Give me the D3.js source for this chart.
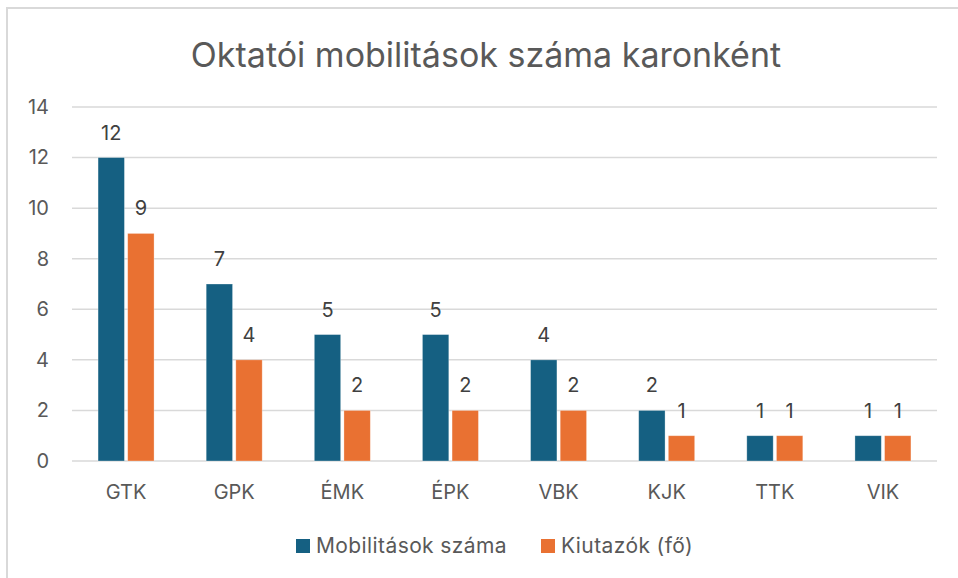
<!DOCTYPE html>
<html>
<head>
<meta charset="utf-8">
<script src="https://cdn.jsdelivr.net/npm/d3@7"></script>
<style>
  body { margin: 0; background: #fff; }
  svg { display: block; font-family: Inter, "Noto Sans", sans-serif; }
</style>
</head>
<body>
<div id="chart"></div>
<script>
// Data
const categories = ["GTK", "GPK", "ÉMK", "ÉPK", "VBK", "KJK", "TTK", "VIK"];
const seriesNames = ["Mobilitások száma", "Kiutazók (fő)"];
const mobilitasok = [12, 7, 5, 5, 4, 2, 1, 1];
const kiutazok = [9, 4, 2, 2, 2, 1, 1, 1];
const yTicks = [0, 2, 4, 6, 8, 10, 12, 14];
const colors = ["#156082", "#E97132"];

const width = 958, height = 578;
const margin = { left: 72, right: 21, top: 107, bottom: 117 };

const svg = d3.select("#chart").append("svg")
  .attr("width", width)
  .attr("height", height);

// chart frame (only left and top edges are visible in the crop)
svg.append("path")
  .attr("d", `M7,${height} V8 H${width}`)
  .attr("fill", "none")
  .attr("stroke", "#d9d9d9")
  .attr("stroke-width", 2);

// Title
svg.append("text")
  .attr("x", 486)
  .attr("y", 67)
  .attr("text-anchor", "middle")
  .attr("fill", "#595959")
  .style("font-size", "34px")
  .text("Oktatói mobilitások száma karonként");

// Scales
const x0 = d3.scaleBand()
  .domain(categories)
  .range([margin.left, width - margin.right]);

const x1 = d3.scaleBand()
  .domain(seriesNames)
  .range([x0.bandwidth() / 2 - 28, x0.bandwidth() / 2 + 28])
  .paddingInner(0.11);

const y = d3.scaleLinear()
  .domain([0, 14])
  .range([height - margin.bottom, margin.top]);

// Gridlines
svg.append("g")
  .selectAll("line")
  .data(yTicks)
  .join("line")
  .attr("x1", margin.left)
  .attr("x2", width - margin.right)
  .attr("y1", d => y(d))
  .attr("y2", d => y(d))
  .attr("stroke", "#d9d9d9")
  .attr("stroke-width", 1.5);

// Y axis labels
const yAxis = svg.append("g")
  .attr("transform", `translate(${margin.left},0)`)
  .call(d3.axisLeft(y).tickValues(yTicks).tickSize(0).tickPadding(23));
yAxis.select(".domain").remove();
yAxis.selectAll("text")
  .attr("fill", "#595959")
  .style("font-size", "20px")
  .style("font-family", "Inter, 'Noto Sans', sans-serif");

// X axis labels
const xAxis = svg.append("g")
  .attr("transform", `translate(0,${y(0)})`)
  .call(d3.axisBottom(x0).tickSize(0).tickPadding(24));
xAxis.select(".domain").remove();
xAxis.selectAll("text")
  .attr("fill", "#595959")
  .style("font-size", "20px")
  .style("font-family", "Inter, 'Noto Sans', sans-serif");

// Bars
const rows = categories.map((c, i) => ({
  cat: c,
  vals: [
    { name: seriesNames[0], v: mobilitasok[i], color: colors[0] },
    { name: seriesNames[1], v: kiutazok[i], color: colors[1] }
  ]
}));

const groups = svg.append("g")
  .selectAll("g")
  .data(rows)
  .join("g")
  .attr("transform", d => `translate(${x0(d.cat)},0)`);

groups.selectAll("rect")
  .data(d => d.vals)
  .join("rect")
  .attr("x", d => x1(d.name))
  .attr("width", x1.bandwidth())
  .attr("y", d => y(d.v))
  .attr("height", d => y(0) - y(d.v))
  .attr("fill", d => d.color)
  .attr("stroke", "#ffffff")
  .attr("stroke-opacity", 0.4)
  .attr("stroke-width", 0.75);

// Data labels
groups.selectAll("text")
  .data(d => d.vals)
  .join("text")
  .attr("x", d => x1(d.name) + x1.bandwidth() / 2)
  .attr("y", d => y(d.v) - 18)
  .attr("text-anchor", "middle")
  .attr("fill", "#404040")
  .style("font-size", "20px")
  .text(d => d.v);

// Legend
const legend = svg.append("g");
const legendX = [296, 541];
seriesNames.forEach((name, i) => {
  const g = legend.append("g").attr("transform", `translate(${legendX[i]},539)`);
  g.append("rect")
    .attr("width", 14)
    .attr("height", 14)
    .attr("fill", colors[i]);
  g.append("text")
    .attr("x", 20)
    .attr("y", 14)
    .attr("fill", "#595959")
    .style("font-size", "21px")
    .style("letter-spacing", "0.4px")
    .text(name);
});
</script>
</body>
</html>
